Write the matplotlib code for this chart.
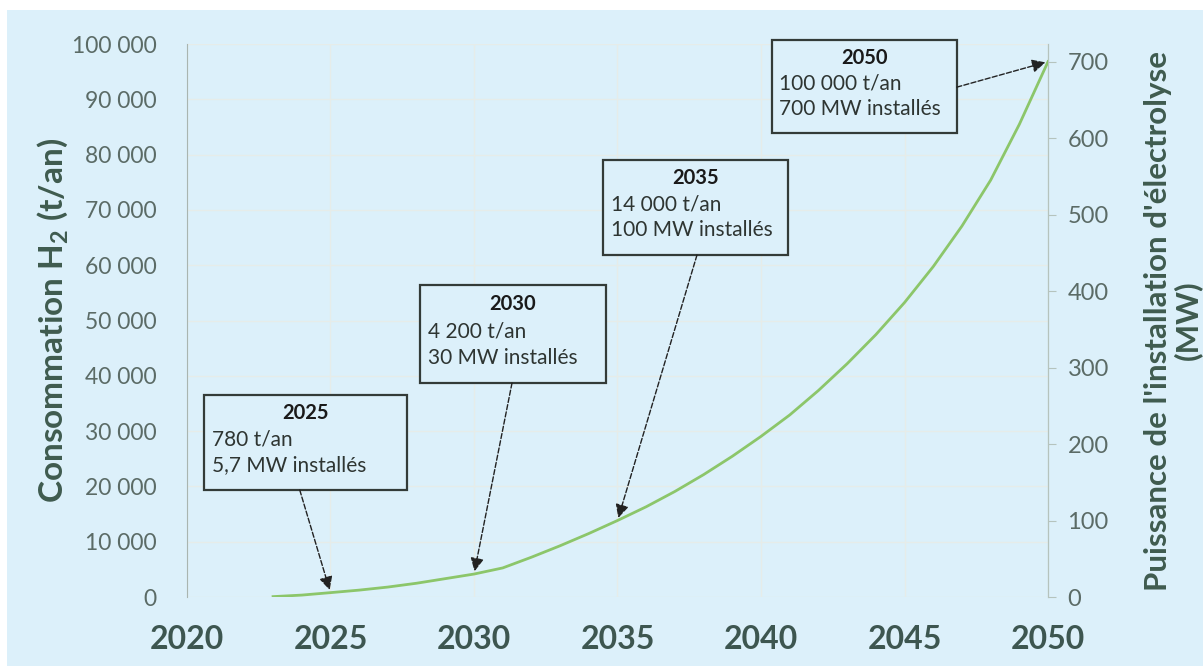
import matplotlib.pyplot as plt
from matplotlib.patches import Rectangle

# Données (puissance installée en MW)
annees = [2023, 2024, 2025, 2026, 2027, 2028, 2029, 2030, 2031, 2032, 2033, 2034, 2035,
          2036, 2037, 2038, 2039, 2040, 2041, 2042, 2043, 2044, 2045, 2046, 2047, 2048, 2049, 2050]
puissance_mw = [0.5, 2.5, 5.7, 9, 13, 18, 24, 30, 38, 52, 67, 83, 100,
                118, 138, 160, 184, 210, 238, 270, 305, 343, 385, 432, 485, 545, 618, 700]

# Étiquettes des jalons
jalons_annee = [2025, 2030, 2035, 2050]
jalons_mw = [5.7, 30, 100, 700]
jalons_tonnes = ['780 t/an', '4 200 t/an', '14 000 t/an', '100 000 t/an']
jalons_install = ['5,7 MW installés', '30 MW installés', '100 MW installés', '700 MW installés']

x_ticks = [2020, 2025, 2030, 2035, 2040, 2045, 2050]
y_ticks_gauche = [0, 10000, 20000, 30000, 40000, 50000, 60000, 70000, 80000, 90000, 100000]
y_ticks_droite = [0, 100, 200, 300, 400, 500, 600, 700]

# Position des cadres (fraction des axes) : x0, y0, x1, y1, départ de la flèche
cadres = [(0.0197, 0.1935, 0.2555, 0.3653, 0.131, 0.1935),
          (0.2706, 0.387, 0.4866, 0.564, 0.3775, 0.387),
          (0.483, 0.6184, 0.698, 0.790, 0.5923, 0.6184),
          (0.679, 0.839, 0.894, 1.007, 0.894, 0.922)]

plt.rcParams['font.family'] = ['Lato', 'DejaVu Sans']
bleu = '#dcf0fa'
gris = '#5b6b66'
vert_fonce = '#3f5b4f'

fig = plt.figure(figsize=(12.03, 6.66), dpi=100)
fig.patches.append(Rectangle((0.0058, 0), 1, 0.985, transform=fig.transFigure,
                             facecolor=bleu, edgecolor='none', zorder=-10))
ax = fig.add_axes([0.1554, 0.1036, 0.7158, 0.8303])
ax.set_facecolor(bleu)
ax2 = ax.twinx()

ax.set_xlim(2020, 2050)
ax.set_ylim(0, 100000)
ax2.set_ylim(0, 723)

ax.set_xticks(x_ticks)
ax.set_xticklabels([str(a) for a in x_ticks], fontsize=23, fontweight='bold', color='#3d5650')
ax.set_yticks(y_ticks_gauche)
ax.set_yticklabels([f'{v:,}'.replace(',', ' ') for v in y_ticks_gauche], fontsize=16.5, color=gris)
ax.tick_params(axis='x', length=0, pad=20)
ax.tick_params(axis='y', length=0, pad=22)
ax2.set_yticks(y_ticks_droite)
ax2.set_yticklabels([str(v) for v in y_ticks_droite], fontsize=17, color=gris)
ax2.tick_params(axis='y', length=6, color='#b5c3bd', pad=8)

ax.grid(True, color='#e6ece9', lw=1)
for a in (ax, ax2):
    for s in ['top', 'bottom']:
        a.spines[s].set_visible(False)
    a.spines['left'].set_color('#a9b5b0')
    a.spines['right'].set_color('#b5c3bd')
ax2.spines['left'].set_visible(False)

ax.set_ylabel(r'Consommation $\mathregular{H_2}$ (t/an)', fontsize=24, fontweight='bold',
              color=vert_fonce, labelpad=1)
ax2.set_ylabel("Puissance de l'installation d'électrolyse\n(MW)", fontsize=22.5,
               fontweight='bold', color=vert_fonce, labelpad=25, linespacing=1.05)

ax2.plot(annees, puissance_mw, color='#8cc66a', lw=2, zorder=3)

for (x0, y0, x1, y1, ax_, ay_), an, mw, t, ins in zip(cadres, jalons_annee, jalons_mw,
                                                       jalons_tonnes, jalons_install):
    ax2.add_patch(Rectangle((x0, y0), x1 - x0, y1 - y0, transform=ax2.transAxes,
                            facecolor=bleu, edgecolor='#333b38', lw=1.6, zorder=5,
                            clip_on=False))
    h = y1 - y0
    ax2.text((x0 + x1) / 2, y1 - 0.19 * h, str(an), transform=ax2.transAxes, ha='center',
             va='center', fontsize=14.5, fontweight='bold', color='#1a1a1a', zorder=6)
    ax2.text(x0 + 0.009, y1 - 0.47 * h, t, transform=ax2.transAxes, ha='left', va='center',
             fontsize=15, color='#2e3532', zorder=6)
    ax2.text(x0 + 0.009, y1 - 0.74 * h, ins, transform=ax2.transAxes, ha='left', va='center',
             fontsize=15, color='#2e3532', zorder=6)
    ax2.annotate('', xy=(an, mw), xycoords='data', xytext=(ax_, ay_),
                 textcoords='axes fraction',
                 arrowprops=dict(arrowstyle='-|>', linestyle='--', color='#222', lw=1,
                                 mutation_scale=20, shrinkA=0, shrinkB=2), zorder=6)

plt.savefig('out.png', dpi=100)
